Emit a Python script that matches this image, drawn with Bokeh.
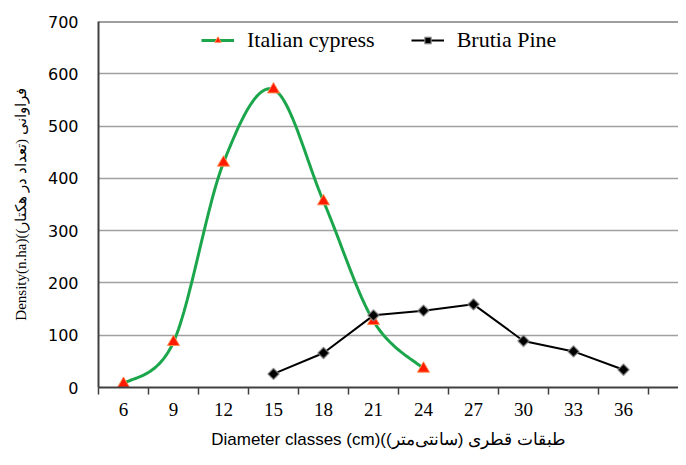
import numpy as np
from bokeh.plotting import figure
from bokeh.models import FixedTicker, Span, Legend, LegendItem, Range1d
from bokeh.embed import file_html
from bokeh.resources import INLINE

# ---- data ----
diameter_classes = [6, 9, 12, 15, 18, 21, 24, 27, 30, 33, 36]
cypress_x = [6, 9, 12, 15, 18, 21, 24]
cypress_y = [7, 87, 430, 570, 356, 127, 36]
pine_x = [15, 18, 21, 24, 27, 30, 33, 36]
pine_y = [26, 66, 138, 147, 159, 89, 69, 34]
y_ticks = [0, 100, 200, 300, 400, 500, 600, 700]

W, H = 678, 457
FL, FR, FT, FB = 98, 0, 21, 70
fw, fh = W - FL - FR, H - FT - FB
X0 = 4.5
X1 = X0 + fw / 50.0 * 3.0
Y0, Y1 = 0, 700


def smooth(xs, ys, n=30):
    # Catmull-Rom (Excel-like) smoothing computed in screen proportions
    sx = fw / (X1 - X0)
    sy = fh / (Y1 - Y0)
    P = np.column_stack([np.array(xs) * sx, np.array(ys) * sy])
    out = [P[0]]
    for i in range(len(P) - 1):
        p0 = P[i - 1] if i > 0 else P[i]
        p1 = P[i]
        p2 = P[i + 1]
        p3 = P[i + 2] if i + 2 < len(P) else P[i + 1]
        c1 = p1 + (p2 - p0) / 6.0
        c2 = p2 - (p3 - p1) / 6.0
        for t in np.linspace(0, 1, n)[1:]:
            b = ((1 - t) ** 3) * p1 + 3 * ((1 - t) ** 2) * t * c1 + 3 * (1 - t) * t * t * c2 + t ** 3 * p2
            out.append(b)
    out = np.array(out)
    return out[:, 0] / sx, out[:, 1] / sy


p = figure(width=W, height=H, output_backend="svg", toolbar_location=None,
           x_range=Range1d(X0, X1), y_range=Range1d(Y0, Y1),
           min_border_left=FL, min_border_right=FR, min_border_top=FT, min_border_bottom=FB)
p.outline_line_color = None
p.background_fill_color = "white"
p.border_fill_color = "white"

# axes
xa = p.xaxis[0]
xa.ticker = FixedTicker(ticks=diameter_classes,
                        minor_ticks=[c - 1.5 for c in diameter_classes] + [diameter_classes[-1] + 1.5])
xa.major_tick_out = 0
xa.major_tick_in = 0
xa.minor_tick_out = 7
xa.minor_tick_in = 0
xa.minor_tick_line_color = "#404040"
xa.minor_tick_line_width = 1.5
xa.axis_line_color = "#404040"
xa.axis_line_width = 2
xa.major_label_text_font = "Liberation Serif"
xa.major_label_text_font_size = "19px"
xa.major_label_text_color = "black"
xa.major_label_standoff = 8
xa.axis_label = "Diameter classes (cm)(طبقات قطری (سانتی‌متر)"
xa.axis_label_text_font = "Liberation Sans"
xa.axis_label_text_font_size = "17px"
xa.axis_label_text_font_style = "normal"
xa.axis_label_text_color = "black"
xa.axis_label_standoff = 11

ya = p.yaxis[0]
ya.ticker = FixedTicker(ticks=y_ticks)
ya.major_tick_out = 0
ya.major_tick_in = 0
ya.minor_tick_out = 0
ya.minor_tick_in = 0
ya.axis_line_color = "#404040"
ya.axis_line_width = 2
ya.major_label_text_font = "DejaVu Sans"
ya.major_label_text_font_size = "16px"
ya.major_label_text_color = "black"
ya.major_label_standoff = 20
ya.axis_label = "Density(n.ha)(فراوانی (تعداد در هکتار)"
ya.axis_label_text_font = "Liberation Serif"
ya.axis_label_text_font_size = "15px"
ya.axis_label_text_font_style = "normal"
ya.axis_label_text_color = "black"
ya.axis_label_standoff = 16

p.xgrid.grid_line_color = None
p.ygrid.ticker = FixedTicker(ticks=y_ticks[1:-1])
p.ygrid.grid_line_color = "#a0a0a0"
p.ygrid.grid_line_width = 1.5

p.add_layout(Span(location=700, dimension="width", line_color="#404040", line_width=2))

# series
cx, cy = smooth(cypress_x, cypress_y)
l1 = p.line(cx, cy, line_color="#1ca64c", line_width=3)
m1 = p.scatter(cypress_x, cypress_y, marker="triangle", size=12,
               fill_color="#ff1a00", line_color="#ff8a50", line_width=1)
l2 = p.line(pine_x, pine_y, line_color="black", line_width=2)
m2 = p.scatter(pine_x, pine_y, marker="square", size=8, angle=np.pi / 4,
               fill_color="black", line_color="#909090", line_alpha=0.7, line_width=1.5)

legend = Legend(items=[LegendItem(label="Italian cypress", renderers=[l1, m1]),
                       LegendItem(label="Brutia Pine", renderers=[l2, m2])],
                orientation="horizontal", location=(103, 334),
                border_line_color=None, background_fill_alpha=0,
                label_text_font="Liberation Serif", label_text_font_size="22px",
                label_text_color="black", glyph_width=33, glyph_height=16,
                spacing=36, label_standoff=13, padding=4, margin=0)
p.add_layout(legend)

open("out.html", "w").write(file_html(p, INLINE))
